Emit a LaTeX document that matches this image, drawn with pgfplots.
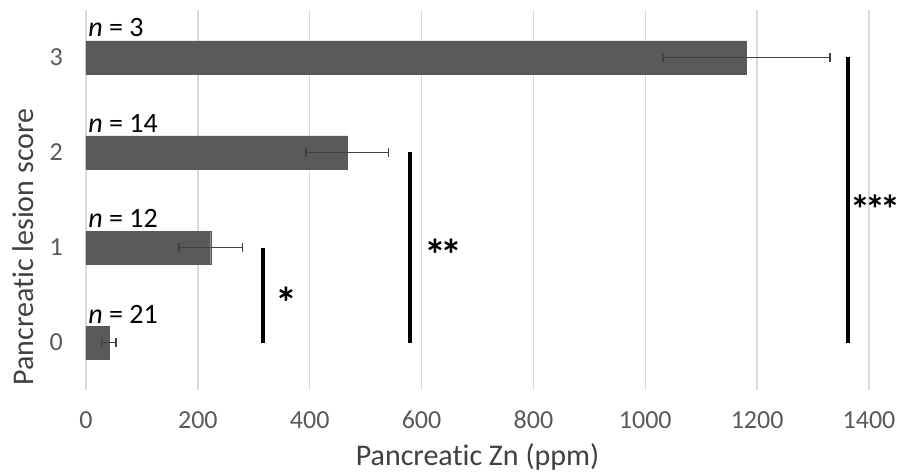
\documentclass[border=0pt]{standalone}
\usepackage{fontspec}
\setmainfont{Carlito}[Ligatures=NoCommon]
\usepackage{pgfplots}
\pgfplotsset{compat=1.18}
\definecolor{barc}{HTML}{595959}
\definecolor{tickc}{HTML}{595959}
\definecolor{gridc}{HTML}{D9D9D9}
\definecolor{labc}{HTML}{404040}
\definecolor{errc}{HTML}{404040}
\newcommand{\st}{\bfseries\fontsize{44}{44}\selectfont}
\begin{document}
\begin{tikzpicture}
\path[use as bounding box] (-86pt,-84pt) rectangle (811pt,390pt);
\begin{axis}[
  at={(0pt,0pt)}, anchor=south west,
  scale only axis, width=783pt, height=380pt,
  xmin=0, xmax=1400, ymin=-0.5, ymax=3.5,
  xtick={0,200,...,1400}, ytick={0,1,2,3},
  xmajorgrids, grid style={gridc, line width=1.5pt},
  axis line style={draw=none}, tick style={draw=none},
  /pgf/number format/assume math mode=true,
  /pgf/number format/1000 sep={},
  ticklabel style={font=\fontsize{26}{30}\selectfont, text=tickc, inner sep=0pt},
  xticklabel style={anchor=center, yshift=-30pt},
  yticklabel style={anchor=east, xshift=-23pt},
  xlabel={Pancreatic Zn (ppm)}, ylabel={Pancreatic lesion score},
  label style={font=\fontsize{30}{36}\selectfont, text=labc, inner sep=0pt},
  xlabel style={at={(axis description cs:0.5,0)}, anchor=center, yshift=-67pt},
  ylabel style={at={(axis description cs:0,0.376)}, anchor=center, yshift=63pt},
  clip=false,
]
\addplot[xbar, bar width=33pt, fill=barc, draw=barc,
  error bars/.cd, x dir=both, x explicit,
  error bar style={line width=1.6pt, color=errc},
  error mark options={rotate=90, mark size=4.5pt, line width=1.6pt, errc}]
  coordinates {
  (41,0) +- (13,0)
  (223,1) +- (57,0)
  (467,2) +- (74,0)
  (1181,3) +- (149,0)
};
\addplot[black, line width=4pt, line cap=butt] coordinates {(317,0) (317,1)};
\addplot[black, line width=4pt, line cap=butt] coordinates {(579,0) (579,2)};
\addplot[black, line width=4pt, line cap=butt] coordinates {(1362,0) (1362,3)};
\node[anchor=west, inner sep=0pt, font=\st] at (axis cs:338,0.42) {*};
\node[anchor=west, inner sep=0pt, font=\st] at (axis cs:604,0.92) {*\kern-5pt*};
\node[anchor=west, inner sep=0pt, font=\bfseries\fontsize{40}{40}\selectfont] at (axis cs:1366,1.40) {*\kern-5pt*\kern-5pt*\kern-4pt};
\node[anchor=west, inner sep=0pt, font=\fontsize{28}{30}\selectfont] at (axis cs:4,3.32) {\textit{n} = 3};
\node[anchor=west, inner sep=0pt, font=\fontsize{28}{30}\selectfont] at (axis cs:4,2.31) {\textit{n} = 14};
\node[anchor=west, inner sep=0pt, font=\fontsize{28}{30}\selectfont] at (axis cs:4,1.31) {\textit{n} = 12};
\node[anchor=west, inner sep=0pt, font=\fontsize{28}{30}\selectfont] at (axis cs:4,0.30) {\textit{n} = 21};
\end{axis}
\end{tikzpicture}
\end{document}
